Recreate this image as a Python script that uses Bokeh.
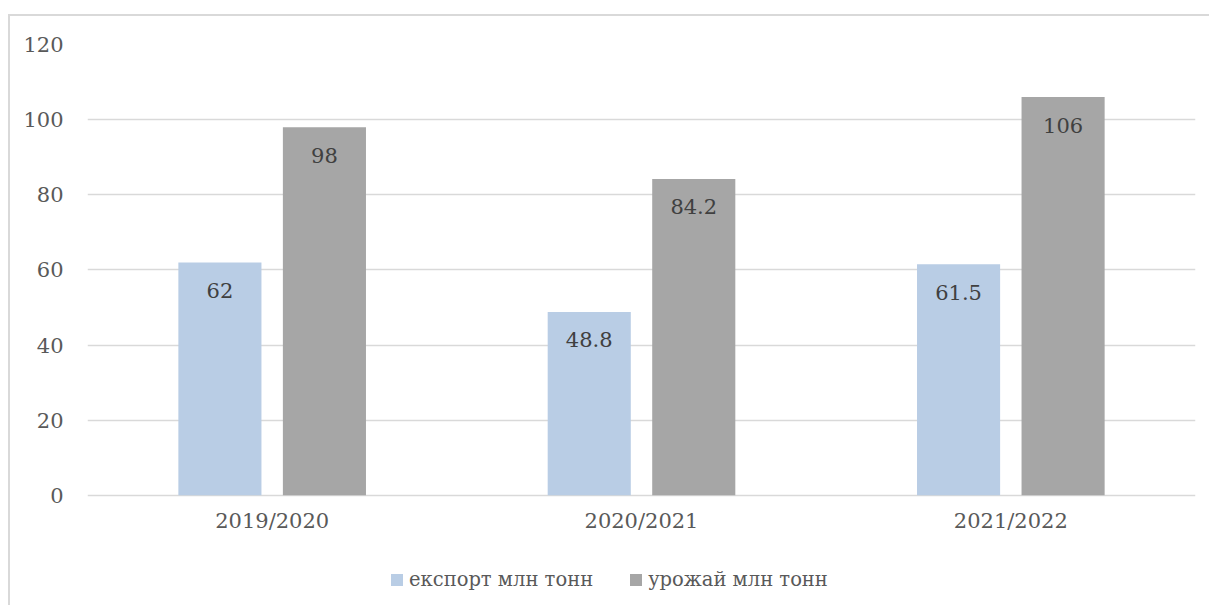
from bokeh.plotting import figure
from bokeh.models import Range1d, FactorRange, ColumnDataSource, Legend, LegendItem, FixedTicker
from bokeh.transform import dodge
from bokeh.core.properties import value
from bokeh.embed import file_html
from bokeh.resources import INLINE

seasons = ["2019/2020", "2020/2021", "2021/2022"]
export_mt = [62, 48.8, 61.5]
harvest_mt = [98, 84.2, 106]
export_labels = ["62", "48.8", "61.5"]
harvest_labels = ["98", "84.2", "106"]
series_names = ["експорт млн тонн", "урожай млн тонн"]
y_ticks = [0, 20, 40, 60, 80, 100, 120]

FONT = "DejaVu Serif"
FSIZE = "21px"
BLUE = "#b9cde5"
GRAY = "#a6a6a6"

src = ColumnDataSource(dict(
    season=seasons,
    export=export_mt,
    harvest=harvest_mt,
    export_lbl=export_labels,
    harvest_lbl=harvest_labels,
    base=[0] * len(seasons),
))

# the frame runs down past zero so the category names and the legend
# are drawn inside it
p = figure(
    x_range=FactorRange(*seasons, range_padding=0),
    y_range=Range1d(-29.6, 120),
    frame_width=1108, frame_height=562,
    min_border_left=77, min_border_top=28, min_border_right=14, min_border_bottom=0,
    output_backend="svg", toolbar_location=None,
    background_fill_color="white", border_fill_color="white",
    styles={
        "margin-left": "8px", "margin-top": "14px",
        "border-left": "2px solid #d9d9d9", "border-top": "2px solid #d9d9d9",
    },
)
p.outline_line_color = None

bw = 0.225
off = 0.1415
r_exp = p.vbar(x=dodge("season", -off, range=p.x_range), top="export", width=bw,
               source=src, fill_color=BLUE, line_color=None)
r_har = p.vbar(x=dodge("season", off, range=p.x_range), top="harvest", width=bw,
               source=src, fill_color=GRAY, line_color=None)

# value labels just inside the top of each bar
p.text(x=dodge("season", -off, range=p.x_range), y="export", text="export_lbl", source=src,
       y_offset=28, text_align="center", text_baseline="middle",
       text_font=value(FONT), text_font_size=FSIZE, text_color="#404040")
p.text(x=dodge("season", off, range=p.x_range), y="harvest", text="harvest_lbl", source=src,
       y_offset=28, text_align="center", text_baseline="middle",
       text_font=value(FONT), text_font_size=FSIZE, text_color="#404040")

# category names under the baseline
p.text(x="season", y="base", text="season", source=src,
       y_offset=26, text_align="center", text_baseline="middle",
       text_font=value(FONT), text_font_size=FSIZE, text_color="#595959")

# grid
p.xgrid.grid_line_color = None
p.ygrid.ticker = FixedTicker(ticks=y_ticks)
p.ygrid.grid_line_color = "#d9d9d9"
p.ygrid.grid_line_width = 1.5

# axes
p.xaxis.visible = False
p.yaxis.ticker = FixedTicker(ticks=y_ticks)
ax = p.yaxis[0]
ax.axis_line_color = None
ax.major_tick_line_color = None
ax.minor_tick_line_color = None
ax.major_tick_out = 0
ax.major_tick_in = 0
ax.major_label_text_font = FONT
ax.major_label_text_font_size = FSIZE
ax.major_label_text_color = "#595959"
ax.major_label_standoff = 24

legend = Legend(
    items=[LegendItem(label=series_names[0], renderers=[r_exp]),
           LegendItem(label=series_names[1], renderers=[r_har])],
    orientation="horizontal", location=(302, 15),
    glyph_width=15, glyph_height=15, label_standoff=5, spacing=35,
    label_text_font=FONT, label_text_font_size="19.5px", label_text_color="#595959",
    border_line_color=None, background_fill_alpha=0, padding=0, margin=0,
)
p.add_layout(legend)

open("out.html", "w").write(file_html(p, INLINE))
